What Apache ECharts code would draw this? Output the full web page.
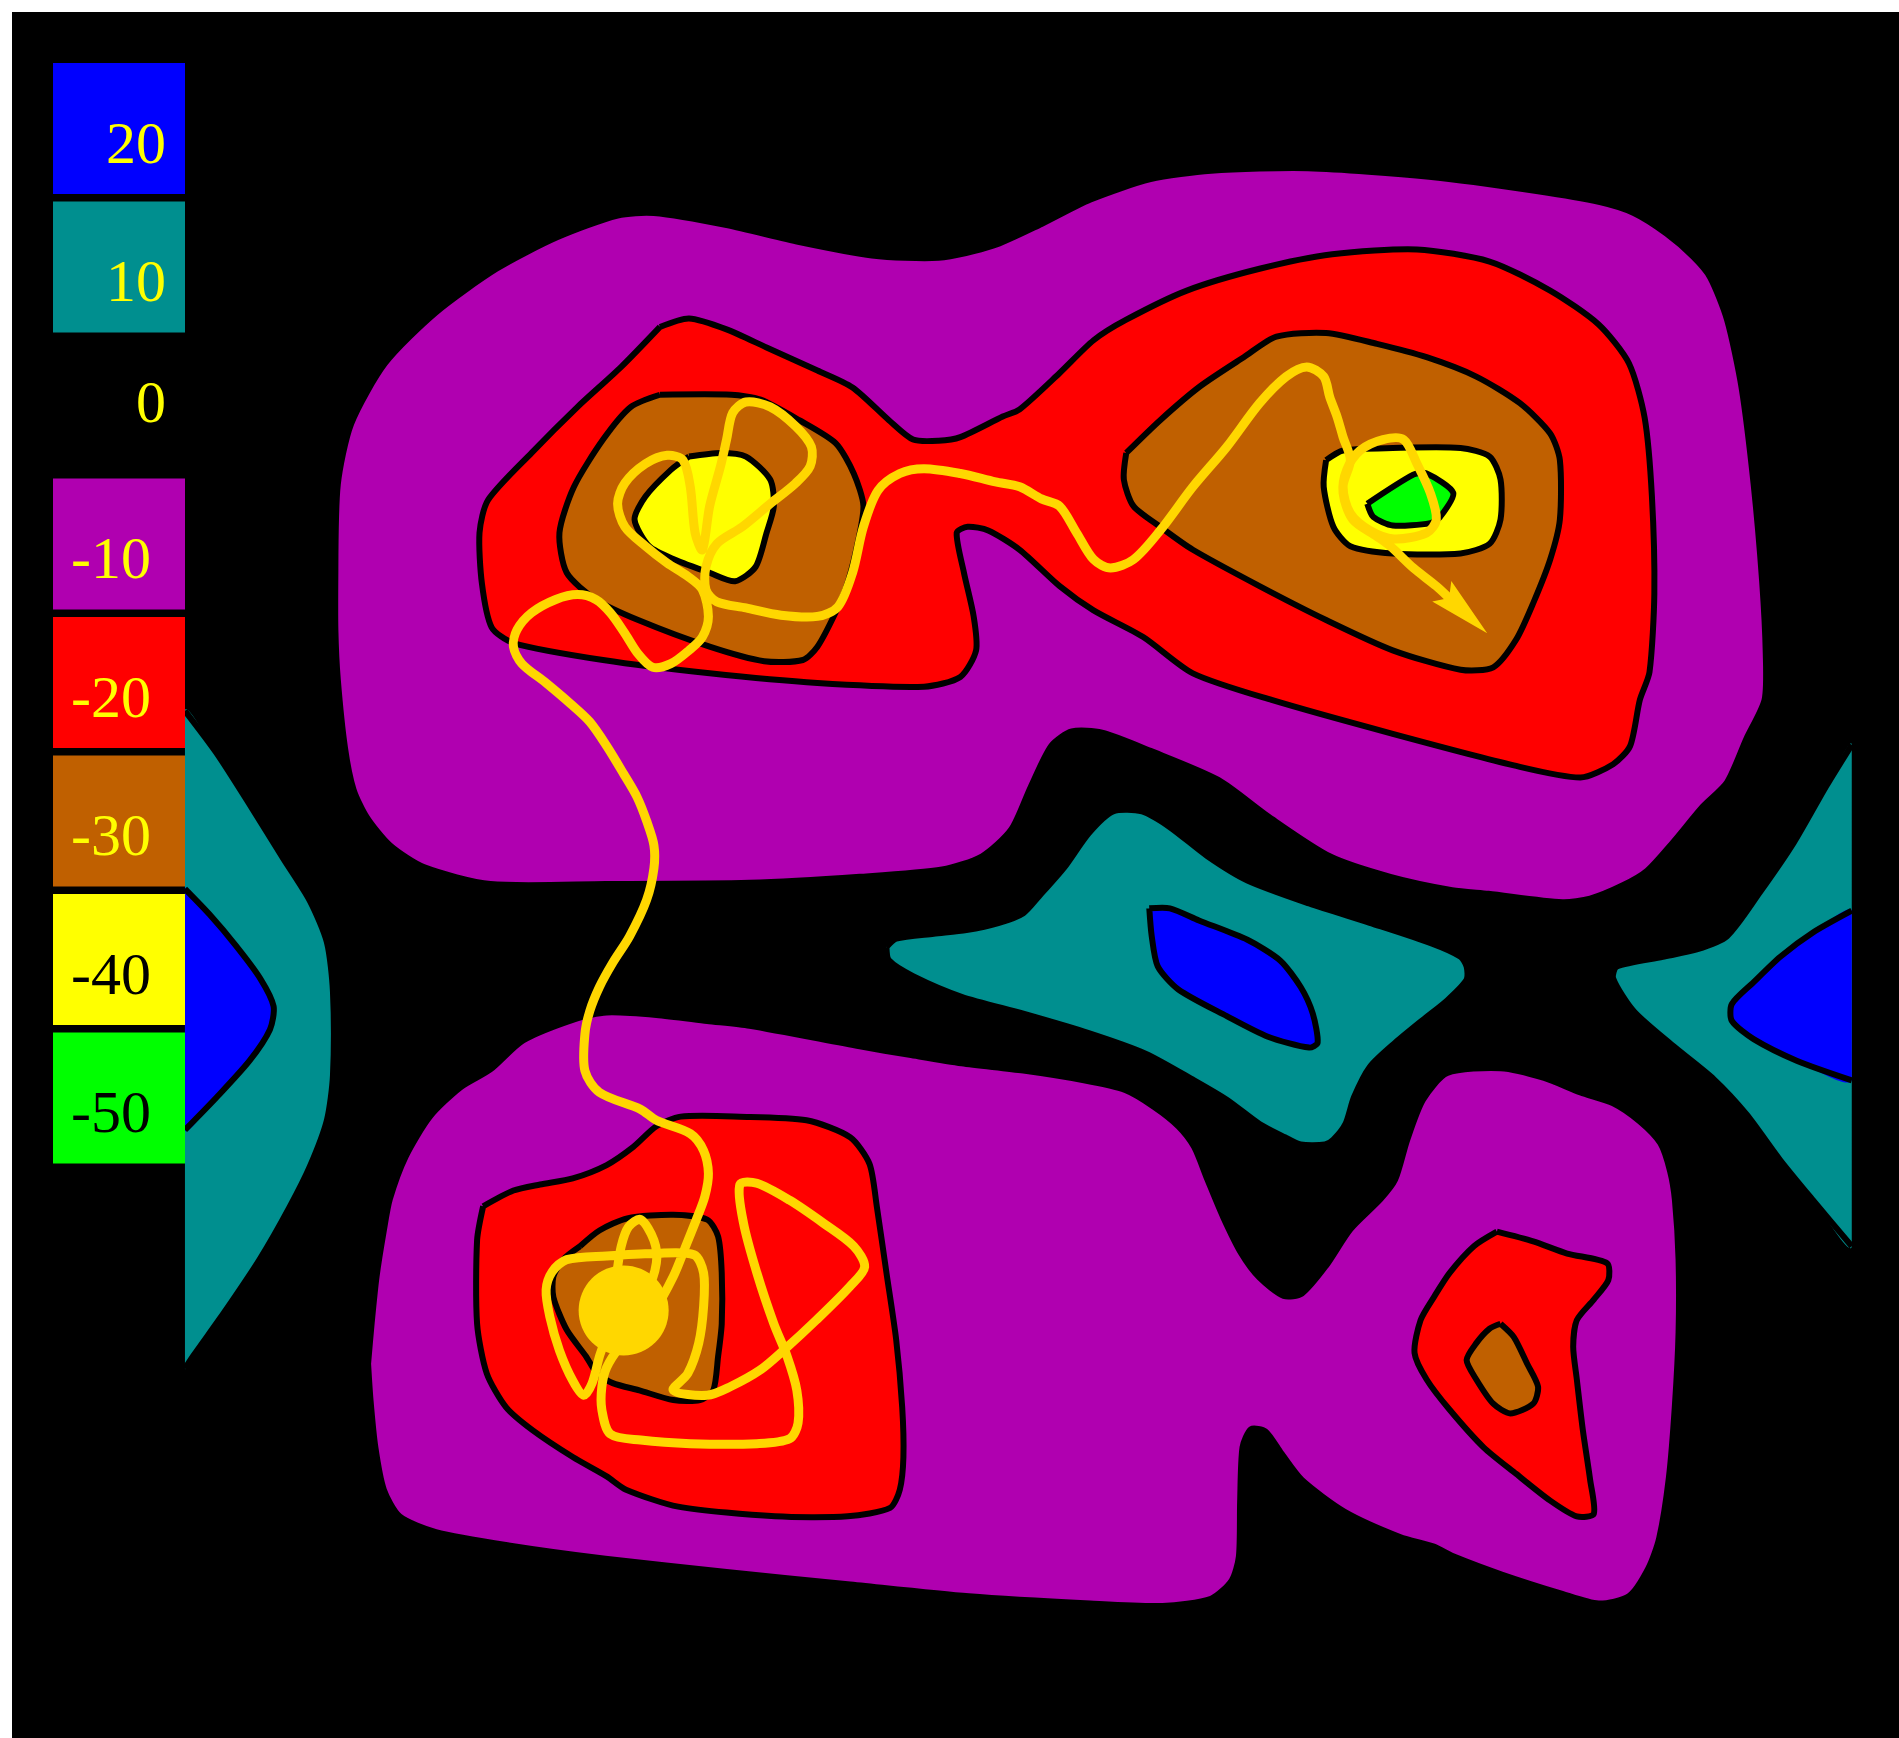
<!DOCTYPE html>
<html>
<head>
<meta charset="utf-8">
<script src="https://cdn.jsdelivr.net/npm/echarts@6/dist/echarts.min.js"></script>
<style>
  html, body { margin: 0; padding: 0; background: #ffffff; }
  #chart { width: 1899px; height: 1738px; }
</style>
</head>
<body>
<div id="chart"></div>
<script>
// Contour levels of the energy surface, top to bottom of the key
const levels = [20, 10, 0, -10, -20, -30, -40, -50];
const levelLabels = ['20', '10', '0', '-10', '-20', '-30', '-40', '-50'];
const levelColors = ['#0000ff', '#008f8f', '#000000', '#b000b0', '#ff0000', '#c06000', '#ffff00', '#00ff00'];
const labelColors = ['#ffff00', '#ffff00', '#ffff00', '#ffff00', '#ffff00', '#ffff00', '#000000', '#000000'];

// Extent of the sampled surface (x to the right, y downward)
const fieldX = [15.28, 152.9];

// Iso-lines in surface coordinates
const upperWell10 = [[27.7,47.0],[27.9,40.0],[29.0,35.0],[31.8,30.0],[36.0,25.8],[41.0,22.2],[46.0,19.6],[51.0,17.8],[54.0,17.6],[60.0,18.6],[66.0,20.0],[72.0,21.1],[77.5,21.3],[82.0,20.3],[86.0,18.5],[90.0,16.5],[95.0,14.8],[100.0,14.1],[108.0,13.9],[118.0,14.6],[127.0,15.8],[132.1,16.7],[134.9,17.6],[137.6,19.3],[139.8,21.2],[141.2,22.9],[142.6,26.4],[143.8,32.0],[144.8,40.0],[145.5,48.0],[145.8,54.0],[145.7,57.8],[144.2,61.0],[142.6,64.6],[140.6,66.6],[138.1,69.6],[136.0,71.9],[134.0,73.1],[131.3,74.2],[129.0,74.5],[122.9,73.8],[119.9,73.5],[114.8,72.4],[109.8,70.7],[104.7,67.4],[100.6,64.4],[95.0,62.0],[91.0,60.5],[88.5,60.4],[86.8,61.6],[85.1,65.0],[83.5,68.5],[81.1,70.7],[77.8,71.8],[71.0,72.4],[61.9,72.9],[50.0,73.0],[40.5,73.0],[35.0,71.6],[32.2,69.8],[30.3,67.5],[29.2,65.2],[28.5,61.8],[27.9,56.1],[27.7,52.0]];
const lowerWell10 = [[30.4,112.6],[30.7,109.2],[31.1,105.4],[31.7,101.6],[32.2,99.0],[33.5,95.5],[35.5,92.2],[38.0,89.8],[40.5,88.3],[43.2,85.9],[47.6,84.1],[50.1,83.6],[54.2,83.8],[58.4,84.3],[61.9,84.7],[71.0,86.4],[75.1,87.1],[79.4,87.8],[84.5,88.4],[89.5,89.2],[92.9,90.0],[95.3,91.4],[97.3,93.0],[98.6,94.7],[99.7,97.4],[101.0,100.5],[102.5,103.5],[104.0,105.5],[106.0,107.0],[107.5,106.8],[109.5,104.5],[111.5,101.5],[114.0,99.0],[115.2,97.4],[116.2,94.1],[117.5,90.8],[119.5,88.6],[123.9,88.2],[127.5,89.0],[130.5,90.2],[133.2,91.1],[135.4,92.6],[137.1,94.4],[137.9,96.7],[138.3,99.1],[138.6,104.0],[138.6,110.0],[138.3,116.0],[137.8,122.0],[137.0,127.0],[136.1,129.5],[134.5,131.8],[132.0,132.4],[129.0,131.6],[124.0,130.0],[120.0,128.5],[118.4,127.7],[115.6,126.9],[111.0,124.8],[107.5,122.2],[105.8,120.0],[104.5,118.2],[103.3,118.0],[102.6,119.5],[102.4,124.0],[102.3,128.5],[101.7,130.5],[100.0,132.0],[96.0,132.6],[90.0,132.4],[80.0,131.8],[70.0,130.8],[60.0,129.8],[50.0,128.7],[42.0,127.6],[36.0,126.5],[33.0,125.2],[31.7,123.0],[31.0,119.5],[30.6,115.6]];
const saddleHill10 = [[73.2,78.2],[74.0,77.5],[77.1,77.1],[79.8,76.8],[82.5,76.2],[84.5,75.4],[85.8,74.0],[87.9,71.6],[89.9,68.8],[91.9,67.0],[94.3,67.0],[96.6,68.3],[99.7,70.7],[103.0,72.7],[108.1,74.6],[113.1,76.2],[118.2,77.9],[120.6,79.0],[121.1,79.8],[121.1,80.9],[119.5,82.6],[117.5,84.2],[115.2,86.1],[113.1,88.1],[111.8,90.6],[111.1,92.8],[110.1,94.1],[109.4,94.5],[107.4,94.5],[106.1,93.9],[104.0,92.8],[101.3,90.8],[98.6,89.2],[94.6,87.0],[89.9,85.3],[84.5,83.7],[79.4,82.3],[75.4,80.6],[73.4,79.3]];
const leftHill10 = [[15.28,58.7],[17.9,62.2],[20.6,66.4],[23.4,70.9],[25.6,74.4],[27.0,77.8],[27.5,81.9],[27.5,88.8],[27.0,92.5],[25.6,96.3],[23.9,99.7],[21.5,103.9],[18.7,108.1],[16.0,111.9],[15.28,113.0]];
const rightHill10 = [[152.9,61.5],[150.8,64.9],[148.1,69.6],[145.3,73.7],[142.6,77.3],[140.1,78.4],[137.3,79.0],[133.5,79.8],[133.2,80.8],[134.9,83.5],[138.2,86.4],[141.5,89.1],[144.2,92.0],[147.0,95.8],[149.7,99.1],[152.9,102.9]];
const saddleHill20 = [[94.9,75.0],[96.6,75.0],[99.0,76.0],[103.0,77.6],[105.7,79.3],[107.4,81.5],[108.4,83.7],[108.8,86.1],[108.1,86.5],[104.7,85.6],[101.3,83.9],[97.3,81.7],[95.6,79.8],[95.1,77.3]];
const leftHill20 = [[15.28,73.4],[17.3,75.5],[19.5,78.1],[21.5,80.8],[22.6,83.1],[22.3,85.0],[20.6,87.6],[17.9,90.6],[15.28,93.3]];
const rightHill20 = [[152.9,75.2],[149.7,77.0],[147.0,79.0],[144.8,81.1],[143.0,82.9],[143.0,84.3],[144.8,85.8],[148.4,87.6],[152.9,89.2]];
const upperWell20 = [[54.5,27.0],[56.9,26.3],[60.0,27.2],[63.3,28.7],[67.5,30.6],[70.4,32.0],[73.4,34.7],[75.4,36.3],[77.5,36.4],[79.3,36.1],[82.8,34.4],[84.2,33.8],[87.5,30.8],[90.3,28.1],[93.0,26.4],[98.0,24.0],[104.0,22.2],[110.0,21.0],[117.0,20.6],[123.0,21.6],[128.0,24.0],[132.0,26.8],[134.5,30.0],[135.8,34.5],[136.4,41.0],[136.6,49.0],[136.2,55.5],[135.4,57.8],[134.6,61.6],[133.2,63.1],[130.5,64.2],[125.0,63.2],[115.0,60.6],[105.0,57.8],[98.5,55.6],[94.4,52.6],[90.3,50.4],[87.5,48.4],[84.2,45.4],[81.6,43.8],[79.9,43.5],[79.0,44.0],[79.6,47.3],[80.4,50.9],[80.6,53.7],[79.3,55.9],[76.3,56.7],[67.5,56.4],[58.6,55.6],[49.8,54.5],[42.4,53.1],[40.6,51.8],[39.8,48.2],[39.6,44.0],[40.3,41.3],[43.9,37.4],[47.7,33.6],[51.3,30.3]];
const lowerLeftWell20 = [[39.9,99.6],[42.4,98.3],[44.6,97.8],[47.3,97.3],[50.1,96.2],[52.3,94.7],[54.2,93.0],[56.2,92.2],[61.1,92.2],[66.6,92.5],[70.2,93.9],[71.8,96.1],[72.4,99.6],[73.2,105.1],[74.0,110.6],[74.5,116.2],[74.6,120.3],[74.3,123.0],[73.5,124.5],[70.0,125.2],[64.0,125.2],[56.0,124.4],[51.7,123.0],[50.1,121.9],[47.3,120.3],[44.0,118.1],[41.8,116.2],[40.2,113.4],[39.4,109.3],[39.4,102.4]];
const lowerRightWell20 = [[123.6,101.7],[126.6,102.5],[129.4,103.5],[132.7,104.3],[132.8,105.7],[131.6,107.3],[130.2,109.0],[129.9,111.2],[130.2,113.9],[130.7,118.1],[131.3,122.2],[131.6,125.0],[130.2,125.2],[128.0,123.9],[125.2,121.7],[122.5,119.5],[119.7,116.4],[117.8,113.9],[116.8,111.7],[117.3,109.0],[118.4,107.1],[119.7,105.1],[121.7,102.9]];
const upperLeftWell30 = [[54.5,32.6],[60.4,32.6],[62.8,33.0],[66.0,34.7],[69.0,36.6],[70.5,39.1],[71.3,41.8],[70.7,45.4],[69.8,48.7],[68.7,51.2],[67.5,53.4],[66.3,54.5],[63.1,54.6],[58.6,53.4],[52.7,51.2],[49.2,49.5],[46.8,47.3],[46.2,44.0],[47.4,40.2],[49.8,36.3],[52.1,33.6]];
const upperRightWell30 = [[93.0,37.4],[95.8,34.7],[99.1,31.9],[102.7,29.5],[105.4,27.8],[109.5,27.5],[113.7,28.4],[117.8,29.5],[121.9,31.1],[125.5,33.3],[128.0,35.8],[128.8,38.0],[128.8,42.9],[128.0,46.2],[126.6,49.8],[125.2,52.8],[123.3,55.1],[120.6,55.3],[115.0,53.7],[109.5,51.2],[104.0,48.4],[98.5,45.4],[95.8,43.5],[93.6,41.8],[92.8,39.6]];
const lowerLeftWell30 = [[47.9,102.9],[49.5,101.6],[51.8,100.6],[55.6,100.3],[58.4,100.7],[59.3,102.1],[59.6,105.1],[59.6,109.3],[59.3,112.0],[58.9,114.8],[57.8,115.6],[55.6,115.6],[52.8,114.8],[50.6,114.2],[49.3,113.4],[48.4,112.0],[46.8,109.8],[45.7,107.1],[45.7,105.4],[46.5,104.0]];
const lowerRightWell30 = [[123.9,109.3],[125.0,110.4],[126.1,112.6],[127.0,114.5],[126.6,115.9],[124.7,116.7],[123.3,115.9],[121.9,113.9],[121.1,112.3],[121.9,110.9],[123.0,109.7]];
const upperLeftWell40 = [[56.9,37.7],[59.5,37.4],[61.6,37.7],[63.6,39.6],[63.9,41.8],[63.3,44.0],[62.4,46.8],[60.7,48.0],[58.6,47.3],[55.7,46.2],[53.6,45.1],[52.4,42.9],[53.3,41.0],[55.4,38.8]];
const upperRightWell40 = [[109.5,38.0],[110.9,37.2],[115.0,37.0],[120.6,37.0],[123.0,37.7],[123.9,39.6],[123.9,42.9],[123.0,44.9],[120.6,45.7],[115.0,45.7],[111.5,45.1],[110.1,43.5],[109.3,40.2]];
const upperRightWell50 = [[112.9,41.6],[116.7,39.2],[117.8,39.1],[120.0,40.7],[118.9,42.7],[118.1,43.2],[115.0,43.4],[113.4,42.7]];

// Path of the walker, from its starting point to the arrow head
const trajectory = [[51.5,108.2],[53.4,106.5],[54.2,104.3],[54.0,102.4],[52.9,100.7],[51.9,101.3],[51.3,102.9],[50.9,105.4],[50.4,109.3],[49.5,112.0],[48.9,114.2],[48.2,115.2],[47.3,114.0],[46.2,111.5],[45.4,108.7],[45.1,106.5],[45.6,105.0],[46.8,104.0],[50.1,103.7],[54.0,103.5],[57.3,103.6],[58.1,105.1],[58.1,107.9],[57.7,110.9],[56.8,113.4],[55.6,114.8],[58.4,115.2],[60.3,114.5],[62.8,113.1],[64.7,111.5],[67.4,109.0],[70.2,106.2],[71.4,104.6],[70.5,102.9],[68.0,101.0],[65.2,99.1],[62.5,97.7],[61.1,97.8],[61.4,101.0],[62.5,105.1],[63.9,109.3],[65.0,112.0],[65.8,114.8],[65.9,117.5],[65.2,118.8],[62.5,119.2],[57.0,119.2],[52.9,118.9],[50.4,118.4],[49.7,116.4],[49.7,114.5],[50.1,112.9],[51.2,111.2],[54.0,108.2],[55.6,105.4],[56.7,102.7],[57.5,100.7],[58.2,98.8],[58.5,96.9],[58.1,95.0],[57.0,93.6],[54.2,92.5],[52.9,91.6],[49.5,90.2],[48.3,88.4],[48.3,85.4],[48.7,83.5],[49.5,81.5],[50.6,79.5],[52.0,77.3],[53.4,74.3],[54.0,71.7],[54.0,69.8],[53.4,67.8],[52.6,65.8],[51.5,63.9],[50.1,61.6],[48.7,59.6],[47.1,58.1],[45.1,56.4],[43.1,54.8],[42.4,53.4],[42.7,52.0],[43.9,50.6],[45.9,49.5],[47.7,49.1],[49.2,49.5],[50.4,50.6],[51.6,52.3],[52.7,54.0],[53.9,55.1],[55.4,54.8],[56.9,53.7],[58.0,52.6],[58.5,50.9],[58.0,48.7],[56.8,47.6],[55.1,46.5],[53.3,45.1],[51.6,43.5],[51.0,41.6],[51.6,39.9],[53.3,38.3],[55.1,37.6],[56.4,38.0],[57.0,40.2],[57.4,44.0],[58.0,45.4],[58.6,41.8],[59.5,38.5],[60.0,36.3],[60.5,34.1],[61.6,33.2],[63.6,33.6],[65.7,35.2],[67.0,36.9],[66.9,38.5],[65.7,39.9],[63.6,41.6],[61.3,43.5],[59.2,44.9],[58.3,46.8],[58.3,48.7],[59.2,49.7],[61.6,50.2],[64.5,50.8],[67.5,50.9],[69.2,50.1],[70.4,47.3],[71.3,43.5],[72.5,40.5],[74.3,39.1],[76.3,38.7],[79.3,39.1],[82.2,39.8],[84.2,40.2],[86.0,41.2],[87.5,41.8],[88.9,44.0],[90.3,46.2],[91.7,46.9],[93.6,46.2],[95.8,43.8],[98.5,40.2],[101.3,36.9],[104.0,33.3],[106.2,31.1],[107.9,30.3],[109.3,31.1],[109.8,32.8],[110.4,34.4],[110.9,36.1],[111.5,38.0],[110.9,40.2],[111.5,42.4],[113.1,43.8],[115.1,44.5],[117.8,44.0],[118.6,42.9],[118.1,40.7],[117.0,38.3],[115.9,36.3],[114.2,36.3],[112.3,37.2],[111.2,38.8],[110.9,40.7],[111.7,42.9],[113.7,44.3],[114.8,45.1],[116.7,46.9],[118.6,48.4],[122.8,52.3]];

// Drawing order: outer levels first, deeper wells and higher peaks on top
const contours = [
  { level: -10, pts: upperWell10, closed: true },
  { level: -10, pts: lowerWell10, closed: true },
  { level: 10, pts: saddleHill10, closed: true },
  { level: 10, pts: leftHill10, closed: false },
  { level: 10, pts: rightHill10, closed: false },
  { level: 20, pts: saddleHill20, closed: true },
  { level: 20, pts: leftHill20, closed: false },
  { level: 20, pts: rightHill20, closed: false },
  { level: -20, pts: upperWell20, closed: true },
  { level: -20, pts: lowerLeftWell20, closed: true },
  { level: -20, pts: lowerRightWell20, closed: true },
  { level: -30, pts: upperLeftWell30, closed: true },
  { level: -30, pts: upperRightWell30, closed: true },
  { level: -30, pts: lowerLeftWell30, closed: true },
  { level: -30, pts: lowerRightWell30, closed: true },
  { level: -40, pts: upperLeftWell40, closed: true },
  { level: -40, pts: upperRightWell40, closed: true },
  { level: -50, pts: upperRightWell50, closed: true }
];

const TRAIL = '#ffd700';
const colorOf = (lv) => levelColors[levels.indexOf(lv)];

function renderContour(params, api) {
  const c = contours[params.dataIndex];
  const pts = c.pts.map(p => api.coord(p));
  const lo = api.coord([fieldX[0], 1]);
  const hi = api.coord([fieldX[1], 143.5]);
  const box = [[lo[0], -1e5], [hi[0], 1e5]];
  const outline = c.closed ? pts.concat([pts[0]]) : pts;
  return {
    type: 'group',
    children: [
      { type: 'polygon', z2: params.dataIndex * 2, shape: { points: pts, smooth: 0.25, smoothConstraint: box },
        style: { fill: colorOf(c.level), stroke: null } },
      { type: 'polyline', z2: params.dataIndex * 2 + 1, shape: { points: outline, smooth: 0.25, smoothConstraint: box },
        style: { fill: null, stroke: '#000000', lineWidth: 6, lineJoin: 'round' } }
    ]
  };
}

function renderTrajectory(params, api) {
  const pts = trajectory.map(p => api.coord(p));
  const n = pts.length;
  const tip = pts[n - 1];
  const prev = pts[n - 2];
  let dx = tip[0] - prev[0], dy = tip[1] - prev[1];
  const len = Math.hypot(dx, dy);
  dx /= len; dy /= len;
  const nx = -dy, ny = dx;
  const headLen = 62, headHalf = 14, notch = 10;
  const base = [tip[0] - dx * headLen, tip[1] - dy * headLen];
  const neck = [tip[0] - dx * (headLen - notch), tip[1] - dy * (headLen - notch)];
  const head = [tip, [base[0] + nx * headHalf, base[1] + ny * headHalf], neck,
                [base[0] - nx * headHalf, base[1] - ny * headHalf]];
  const shaft = pts.slice(0, n - 1).concat([neck]);
  return {
    type: 'group',
    children: [
      { type: 'polyline', shape: { points: shaft, smooth: 0.3 },
        style: { fill: null, stroke: TRAIL, lineWidth: 9, lineJoin: 'round', lineCap: 'round' } },
      { type: 'polygon', shape: { points: head }, style: { fill: TRAIL } },
      { type: 'circle', shape: { cx: pts[0][0], cy: pts[0][1], r: 45 }, style: { fill: TRAIL } }
    ]
  };
}

// Colour key on the left edge
const keyElements = [];
levels.forEach((lv, i) => {
  const top = 63 + i * 138.5;
  if (lv !== 0) {
    keyElements.push({ type: 'rect', z: 10, shape: { x: 53, y: top, width: 132, height: 131 },
      style: { fill: levelColors[i] } });
  }
  keyElements.push({ type: 'text', z: 11,
    style: { text: levelLabels[i], x: lv < 0 ? 151 : 166, y: top + (lv === 0 ? 66 : 84),
      fill: labelColors[i], font: '60px "Liberation Serif", "DejaVu Serif", serif',
      align: 'right', verticalAlign: 'middle', textAlign: 'right', textVerticalAlign: 'middle' } });
});

const chart = echarts.init(document.getElementById('chart'), null, { renderer: 'canvas' });
chart.setOption({
  backgroundColor: '#ffffff',
  animation: false,
  grid: { left: 12, top: 12, right: 0, bottom: 0, show: true, backgroundColor: '#000000', borderWidth: 0 },
  xAxis: { type: 'value', min: 1, max: 156.8, show: false },
  yAxis: { type: 'value', min: 1, max: 143.5, inverse: true, show: false },
  graphic: { elements: keyElements },
  series: [
    { type: 'custom', coordinateSystem: 'cartesian2d', silent: true, renderItem: renderContour,
      data: contours.map(c => c.pts[0]), z: 2 },
    { type: 'custom', coordinateSystem: 'cartesian2d', silent: true, renderItem: renderTrajectory,
      data: [trajectory[0]], z: 3 }
  ]
});
</script>
</body>
</html>
